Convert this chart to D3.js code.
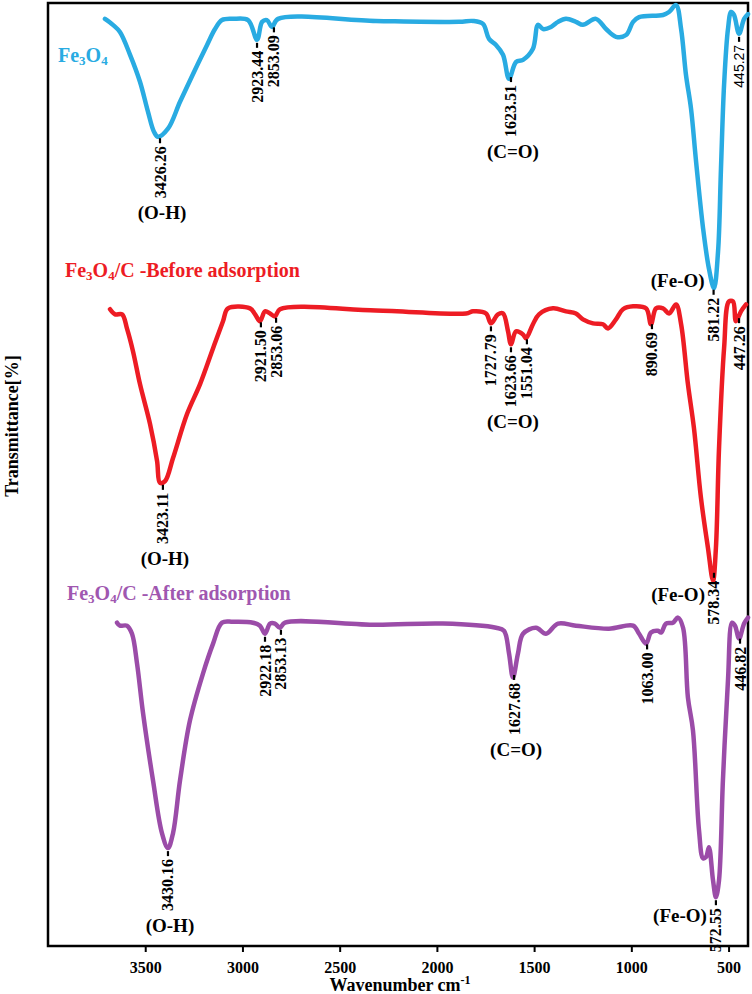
<!DOCTYPE html>
<html>
<head>
<meta charset="utf-8">
<script src="https://cdn.jsdelivr.net/npm/d3@7"></script>
<style>
    body { margin: 0; background: #fff; }
    text { font-family: "Liberation Serif", "Times New Roman", serif; font-weight: bold; }
</style>
</head>
<body>
<svg id="chart" width="752" height="994"></svg>
<script>
// spectra: [wavenumber, transmittance (stacked, arbitrary units)]
let fe3o4 = [[3707,309.7],[3666,307.7],[3630,305.3],[3578,297.7],[3527,288.7],[3486,278.7],[3455,272],
    [3434,270.3],[3383,273],[3321,282],[3254,291.3],[3182,301],[3141,306.3],[3105,309.3],[3049,309.7],
    [2971,309.3],[2925,302.7],[2899,308.7],[2874,309.3],[2848,307],[2817,309.7],[2313,309],[1886,308.7],
    [1814,309],[1763,308],[1732,303],[1696,301],[1660,297.7],[1629,289.7],[1593,295.3],[1557,296],
    [1506,299.7],[1480,307.7],[1454,306.3],[1413,307],[1377,308.7],[1336,309.7],[1285,308.7],[1249,307.7],
    [1182,309.7],[1130,306.3],[1079,303.7],[1027,304.3],[991,308.7],[960,310.3],[837,311],[806,312],
    [770,314.3],[744,306.3],[719,291],[693,279.7],[667,262],[631,239.7],[601,226.3],[575,219.7],
    [554,232],[539,259.7],[523,287.7],[503,306.3],[487,312],[472,311],[446,304.7],[420,309.7],[400,311.3]];

let fe3o4cBefore = [[3681,212.7],[3655,211],[3619,211],[3594,206.3],[3563,198.7],[3527,187.7],[3475,174.3],
    [3439,162],[3424,154.7],[3398,155.3],[3357,163],[3285,177.7],[3218,187.7],[3151,199.7],[3100,208.7],
    [3074,213],[2961,213],[2935,211],[2910,208.7],[2884,212],[2858,211.3],[2833,210.3],[2807,212.7],
    [2313,212.3],[1850,211.3],[1814,212],[1747,211.3],[1722,208],[1686,211],[1660,211.3],[1634,205.3],
    [1619,201],[1593,205.3],[1557,204.3],[1542,203],[1506,207.7],[1475,211],[1403,213],[1336,212],
    [1285,211.3],[1249,209.3],[1197,208],[1146,207.7],[1120,206.3],[1079,209.3],[1043,212.7],[991,213.7],
    [924,213],[899,207.7],[873,213],[837,213],[806,211.3],[770,214.3],[744,207.7],[709,187.7],[678,173],
    [642,149.7],[606,133],[580,122],[565,133],[549,166.3],[523,199.7],[498,215.3],[477,215.3],[462,208.7],
    [436,212],[410,214.3]];

let fe3o4cAfter = [[3645,108],[3630,107],[3594,107],[3568,104.3],[3542,94.3],[3511,77.7],[3460,55.3],
    [3414,37.7],[3383,32.7],[3357,37.7],[3321,55.3],[3270,75.3],[3203,91],[3151,101],[3105,108],
    [3049,108.3],[2946,108],[2910,107],[2884,104.3],[2858,107.7],[2833,107.7],[2807,106.3],[2781,108],
    [2313,107.3],[1969,107.7],[1696,106.3],[1655,105.3],[1629,97.7],[1609,89.7],[1583,97.7],[1557,104.3],
    [1490,106.3],[1439,104.3],[1377,107.7],[1285,107],[1115,106],[991,107],[960,104.3],[924,101],
    [899,104.7],[863,105.3],[847,104.7],[822,107.7],[786,108],[760,109.7],[734,106.3],[709,83],[683,72],
    [652,38.7],[631,29.3],[616,29.7],[601,33],[580,22],[565,16.3],[549,22],[529,55.3],[503,88.7],
    [482,108],[467,107],[446,102.7],[420,107.7],[400,109.7]];

// peak labels: [text, wavenumber where it sits on the drawn curve]
let peaksFe3O4 = [["3426.26",3424],["2923.44",2925],["2853.09",2838],["1623.51",1619],["581.22",577],["445.27",446]];
let peaksBefore = [["3423.11",3409],["2921.50",2905],["2853.06",2827],["1727.79",1722],["1623.66",1619],
    ["1551.04",1537],["890.69",894],["578.34",575],["447.26",446]];
let peaksAfter = [["3430.16",3383],["2922.18",2884],["2853.13",2802],["1627.68",1603],["1063.00",919],
    ["572.55",565],["446.82",441]];

// band assignments: [text, peak it belongs to]
let bandsFe3O4 = [["(O-H)","3426.26"],["(C=O)","1623.51"],["(Fe-O)","581.22"]];
let bandsBefore = [["(O-H)","3423.11"],["(C=O)","1623.66"],["(Fe-O)","578.34"]];
let bandsAfter = [["(O-H)","3430.16"],["(C=O)","1627.68"],["(Fe-O)","572.55"]];

let seriesNames = [["Fe","3","O","4",""],["Fe","3","O","4","/C -Before adsorption"],["Fe","3","O","4","/C -After adsorption"]];
let xTicks = [3500, 3000, 2500, 2000, 1500, 1000, 500];

let colors = ["#29abe2", "#ed1c24", "#9b4ca8"];
let titleColors = ["#29abe2", "#ed1c24", "#a057b0"];

let margin = {top: 3, right: 4, bottom: 48, left: 48},
    width = 752 - margin.left - margin.right,
    height = 994 - margin.top - margin.bottom;

let svg = d3.select("#chart");
let g = svg.append("g").attr("transform", "translate(" + margin.left + "," + margin.top + ")");

let x = d3.scaleLinear().domain([4000, 400]).range([0, width]);
let y = d3.scaleLinear().domain([0, 315]).range([height, 0]);

let line = d3.line()
    .x(function(d){ return x(d[0]); })
    .y(function(d){ return y(d[1]); })
    .curve(d3.curveCatmullRom.alpha(0.5));

// value of a spectrum at a given wavenumber (linear between read points)
function valueAt(series, wn) {
    for (let i = 0; i < series.length - 1; i++) {
        let a = series[i], b = series[i + 1];
        if (wn <= a[0] && wn >= b[0]) {
            let t = (a[0] - wn) / (a[0] - b[0]);
            return a[1] + t * (b[1] - a[1]);
        }
    }
    return series[series.length - 1][1];
}

// x axis
let xAxis = d3.axisBottom(x).tickValues(xTicks).tickFormat(d3.format("d"))
    .tickSize(6).tickSizeOuter(0).tickPadding(10);
let gx = g.append("g").attr("transform", "translate(0," + height + ")").call(xAxis);
gx.select(".domain").remove();
gx.selectAll(".tick line").attr("stroke", "#000").attr("stroke-width", 2);
gx.selectAll(".tick text")
    .attr("fill", "#000")
    .style("font-family", '"Liberation Serif", serif')
    .style("font-weight", "bold")
    .style("font-size", "16px");

// frame
g.append("rect")
    .attr("x", 0).attr("y", 0)
    .attr("width", width).attr("height", height)
    .attr("fill", "none")
    .attr("stroke", "#000")
    .attr("stroke-width", 2.5);

// axis titles
let xt = svg.append("text")
    .attr("x", 400).attr("y", 991)
    .attr("text-anchor", "middle")
    .style("font-size", "18px");
xt.append("tspan").text("Wavenumber cm");
xt.append("tspan").attr("dy", -7).style("font-size", "12px").text("-1");

svg.append("text")
    .attr("transform", "translate(12,426) rotate(-90)")
    .attr("text-anchor", "middle")
    .attr("dominant-baseline", "central")
    .style("font-size", "18px")
    .text("Transmittance[%]");

let allSeries = [fe3o4, fe3o4cBefore, fe3o4cAfter];
let allPeaks = [peaksFe3O4, peaksBefore, peaksAfter];
let allBands = [bandsFe3O4, bandsBefore, bandsAfter];
let titlePos = [[10, 62], [17, 277], [19, 600]];
let feoDrop = [0, 31, 25];

allSeries.forEach(function(series, si) {

    g.append("path")
        .datum(series)
        .attr("d", line)
        .attr("fill", "none")
        .attr("stroke", colors[si])
        .attr("stroke-width", 4.5)
        .attr("stroke-linejoin", "round")
        .attr("stroke-linecap", "round");

    // series name with subscripts
    let nm = seriesNames[si];
    let tt = g.append("text")
        .attr("x", titlePos[si][0]).attr("y", titlePos[si][1] - margin.top)
        .attr("fill", titleColors[si])
        .style("font-size", "20px");
    tt.append("tspan").text(nm[0]);
    tt.append("tspan").attr("dy", 3).style("font-size", "13px").text(nm[1]);
    tt.append("tspan").attr("dy", -3).text(nm[2]);
    tt.append("tspan").attr("dy", 3).style("font-size", "13px").text(nm[3]);
    tt.append("tspan").attr("dy", -3).text(nm[4]);

    // peak labels
    let ends = {};
    allPeaks[si].forEach(function(p) {
        let px = x(p[1]);
        let py = y(valueAt(series, p[1])) + 3;
        g.append("line")
            .attr("x1", px).attr("x2", px)
            .attr("y1", py).attr("y2", py + 5)
            .attr("stroke", "#000")
            .attr("stroke-width", 2.2);
        let lbl = g.append("text")
            .attr("transform", "translate(" + px + "," + (py + 8) + ") rotate(-90)")
            .attr("text-anchor", "end")
            .attr("dominant-baseline", "central")
            .style("font-size", "16px")
            .text(p[0]);
        if (p[0] == "445.27")
            lbl.style("font-family", '"Liberation Sans", Arial, sans-serif').style("font-weight", "normal").style("font-size", "14px");
        ends[p[0]] = {x: px, top: py, bottom: py + 8 + lbl.node().getComputedTextLength()};
    });

    // band assignments
    allBands[si].forEach(function(b) {
        let e = ends[b[1]];
        if (b[0] == "(Fe-O)") {
            g.append("text")
                .attr("x", e.x - 9).attr("y", e.top - 3 + feoDrop[si])
                .attr("text-anchor", "end")
                .style("font-size", "19px")
                .text(b[0]);
        } else {
            g.append("text")
                .attr("x", e.x + 2).attr("y", e.bottom + 21)
                .attr("text-anchor", "middle")
                .style("font-size", "19px")
                .text(b[0]);
        }
    });
});
</script>
</body>
</html>
